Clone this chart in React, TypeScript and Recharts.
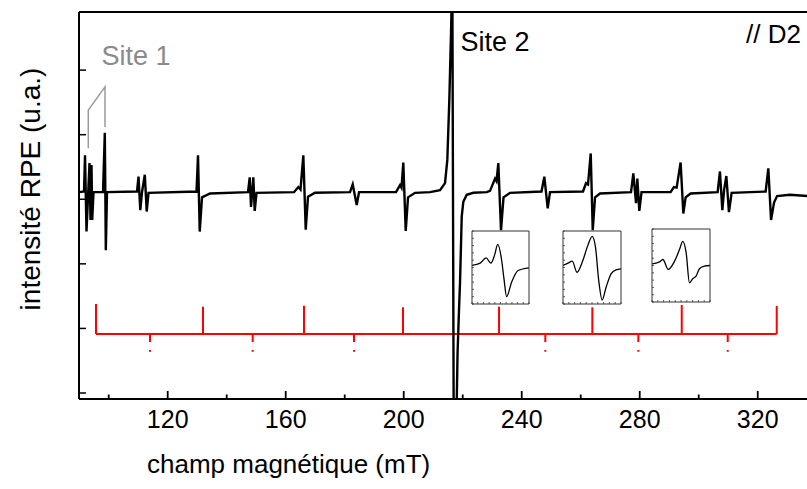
import { LineChart, Line, XAxis, YAxis, ReferenceLine } from 'recharts';

const FONT = '"Liberation Sans", Arial, Helvetica, sans-serif';

// [champ magnétique (mT), intensité RPE (u.a.)]
const spectrum: [number, number][] = [
  [90.1, 3.11], [91.63, 3.12], [91.97, 3.68], [92.47, 2.5], [93.49, 3.56], [93.83, 2.68],
  [94.17, 3.53], [94.41, 2.68], [94.85, 3.11], [98.07, 3.11], [98.68, 4.03], [99.02, 2.21],
  [99.42, 3.11], [109.59, 3.12], [110.1, 3.35], [110.71, 2.83], [111.29, 3.11], [112.24, 3.38],
  [112.88, 2.81], [113.49, 3.1], [129.76, 3.12], [130.27, 3.68], [130.85, 2.5], [131.63, 3.03],
  [134.34, 3.09], [147.22, 3.11], [147.8, 3.34], [148.24, 2.88], [148.64, 3.11], [149.02, 3.34],
  [149.49, 2.82], [150.1, 3.1], [162.81, 3.11], [164.27, 3.19], [165.02, 3.15], [165.97, 3.68],
  [166.78, 2.53], [167.56, 3.04], [169.93, 3.1], [181.8, 3.11], [182.71, 3.23], [184.07, 2.91],
  [184.85, 3.11], [197.39, 3.11], [198.75, 3.22], [199.25, 3.18], [199.86, 3.57], [200.68, 2.51],
  [201.46, 3.03], [203.83, 3.1], [208.92, 3.11], [212.31, 3.14], [214.0, 3.25], [214.78, 3.61],
  [215.46, 4.54], [216.03, 5.57], [216.47, 6.5], [216.98, -1.0], [217.66, -1.0], [218.24, 0.6],
  [218.75, 1.3], [219.08, 1.7], [219.66, 2.73], [220.2, 2.96], [221.36, 3.07], [223.59, 3.1],
  [228.14, 3.11], [229.25, 3.13], [230.95, 3.32], [231.46, 3.28], [232.07, 3.56], [232.98, 2.52],
  [233.83, 3.03], [236.03, 3.1], [246.71, 3.12], [247.66, 3.35], [248.81, 2.86], [249.59, 3.11],
  [260.78, 3.12], [261.8, 3.25], [262.47, 3.23], [263.39, 3.71], [264.07, 2.52], [264.85, 3.03],
  [266.54, 3.09], [277.05, 3.11], [277.83, 3.4], [278.75, 2.94], [279.19, 3.32], [279.86, 2.82],
  [280.61, 3.11], [290.47, 3.11], [291.59, 3.19], [292.51, 3.18], [293.86, 3.57], [294.78, 2.78],
  [295.56, 3.03], [297.25, 3.09], [306.41, 3.11], [307.19, 3.43], [308.0, 2.83], [308.61, 3.15],
  [309.36, 3.36], [310.24, 2.8], [311.15, 3.1], [322.68, 3.12], [323.59, 3.48], [324.51, 2.68],
  [325.53, 2.95], [326.54, 3.05], [330.95, 3.07], [336.71, 3.05],
];

// repère "Site 1"
const site1Bracket: [number, number][] = [[93.08, 3.79], [93.08, 4.38], [98.75, 4.74], [98.75, 4.12]];

// diagramme en bâtons (rouge)
const stickFields = [95.69, 131.97, 166.2, 199.76, 232.31, 263.93, 294.24, 326.44];
const stickTops = [1.378, 1.336, 1.351, 1.327, 1.336, 1.327, 1.362, 1.347];
const stickBase = 0.913;
const weakFields = [114.0, 148.81, 183.15, 248.0, 279.53, 309.83];
const weakBottom = 0.64;

const majorTicks = [120, 160, 200, 240, 280, 320];
const minorTicks = [100, 140, 180, 220, 260, 300];
const yTicks = [0, 1, 2, 3, 4, 5];

// encarts : [position relative, intensité relative]
const inset1: [number, number][] = [
  [0, 0.528], [0.144, 0.559], [0.248, 0.633], [0.33, 0.559], [0.4, 0.68], [0.451, 0.817],
  [0.521, 0.596], [0.56, 0.35], [0.608, 0.1], [0.694, 0.298], [0.809, 0.459], [1, 0.496],
];
const inset2: [number, number][] = [
  [0, 0.528], [0.086, 0.559], [0.16, 0.587], [0.24, 0.435], [0.342, 0.596], [0.428, 0.803],
  [0.503, 0.927], [0.56, 0.78], [0.616, 0.321], [0.675, 0.055], [0.743, 0.229], [0.829, 0.413],
  [0.914, 0.468], [1, 0.482],
];
const inset3: [number, number][] = [
  [0, 0.523], [0.12, 0.545], [0.188, 0.582], [0.28, 0.446], [0.389, 0.559], [0.474, 0.718],
  [0.531, 0.831], [0.589, 0.673], [0.646, 0.264], [0.702, 0.319], [0.76, 0.354], [0.817, 0.455],
  [0.902, 0.49], [1, 0.5],
];
const insetTicks = [0, 0.1, 0.2, 0.3, 0.4, 0.5, 0.6, 0.7, 0.8, 0.9, 1];

const xDomain: [number, number] = [89.93, 336.7];
const yDomain: [number, number] = [-0.093, 5.9];

const toXY = (pts: [number, number][]) => pts.map(([x, y]) => ({ x, y }));

function BottomTick(props: any) {
  const { x, y, payload } = props;
  const major = majorTicks.includes(payload.value);
  return (
    <g>
      <line x1={x} y1={y} x2={x} y2={y - (major ? 8 : 4.5)} stroke="#000" strokeWidth={1.8} />
      {major && (
        <text x={x} y={y + 29} textAnchor="middle" fontSize={25} fontFamily={FONT} fill="#000">
          {payload.value}
        </text>
      )}
    </g>
  );
}

function TopTick(props: any) {
  const { x, y } = props;
  return <line x1={x} y1={y} x2={x} y2={y + 3.5} stroke="#000" strokeWidth={1.5} />;
}

function LeftTick(props: any) {
  const { x, y } = props;
  return <line x1={x} y1={y} x2={x + 7} y2={y} stroke="#000" strokeWidth={1.5} />;
}

function tinyTick(dx: number, dy: number) {
  return (props: any) => (
    <line x1={props.x} y1={props.y} x2={props.x + dx} y2={props.y + dy} stroke="#333" strokeWidth={0.8} />
  );
}

function Inset({ data, left, top, width, height }: { data: [number, number][]; left: number; top: number; width: number; height: number }) {
  return (
    <div style={{ position: 'absolute', left, top }}>
      <LineChart width={width} height={height} margin={{ top: 0, right: 0, bottom: 0, left: 0 }}>
        <XAxis dataKey="x" type="number" domain={[0, 1]} ticks={insetTicks} height={1} tickSize={0} tickMargin={0}
          interval={0} allowDataOverflow stroke="#333" strokeWidth={1} tick={tinyTick(0, -2)} />
        <XAxis xAxisId="t" orientation="top" type="number" domain={[0, 1]} ticks={insetTicks} height={1} tickSize={0}
          tickMargin={0} interval={0} stroke="#333" strokeWidth={1} tick={tinyTick(0, 2)} />
        <YAxis type="number" domain={[0, 1]} ticks={insetTicks} width={1} tickSize={0} tickMargin={0} interval={0}
          allowDataOverflow stroke="#333" strokeWidth={1} tick={tinyTick(2, 0)} />
        <YAxis yAxisId="r" orientation="right" type="number" domain={[0, 1]} ticks={insetTicks} width={1} tickSize={0}
          tickMargin={0} interval={0} stroke="#333" strokeWidth={1} tick={tinyTick(-2, 0)} />
        <Line data={toXY(data)} dataKey="y" type="monotone" stroke="#000" strokeWidth={1.3} dot={false}
          isAnimationActive={false} />
      </LineChart>
    </div>
  );
}

export default function App() {
  const topTicks = [...minorTicks, ...majorTicks].sort((a, b) => a - b);
  return (
    <div style={{ position: 'absolute', left: 0, top: 0, width: 807, height: 489, overflow: 'hidden', background: '#fff' }}>
      <LineChart width={807} height={489} margin={{ top: 11, right: 0, bottom: 0, left: 0 }}>
        <XAxis dataKey="x" type="number" domain={xDomain} allowDataOverflow ticks={topTicks} interval={0}
          height={90} tickSize={0} tickMargin={0} stroke="#000" strokeWidth={2} tick={(p: any) => <BottomTick {...p} />} />
        <XAxis xAxisId="top" orientation="top" type="number" domain={xDomain} allowDataOverflow ticks={topTicks}
          interval={0} height={1} tickSize={0} tickMargin={0} stroke="#000" strokeWidth={2}
          tick={(p: any) => <TopTick {...p} />} />
        <YAxis type="number" domain={yDomain} allowDataOverflow ticks={yTicks} interval={0} width={79}
          tickSize={0} tickMargin={0} stroke="#000" strokeWidth={2} tick={(p: any) => <LeftTick {...p} />} />

        <ReferenceLine segment={[{ x: stickFields[0], y: stickBase }, { x: stickFields[stickFields.length - 1], y: stickBase }]}
          stroke="#ff0000" strokeWidth={2} ifOverflow="visible" />
        {stickFields.map((f, i) => (
          <ReferenceLine key={`s${i}`} segment={[{ x: f, y: stickBase }, { x: f, y: stickTops[i] }]}
            stroke="#ff0000" strokeWidth={2} ifOverflow="visible" />
        ))}
        {weakFields.map((f, i) => (
          <ReferenceLine key={`w${i}`} segment={[{ x: f, y: stickBase }, { x: f, y: weakBottom }]}
            stroke="#ff0000" strokeWidth={2} strokeDasharray="8 8 2 40" ifOverflow="visible" />
        ))}

        <Line data={toXY(site1Bracket)} dataKey="y" type="linear" stroke="#9a9a9a" strokeWidth={1.5} dot={false}
          isAnimationActive={false} />
        <Line data={toXY(spectrum)} dataKey="y" type="linear" stroke="#000" strokeWidth={2.4} dot={false}
          isAnimationActive={false} />
      </LineChart>

      <Inset data={inset1} left={471} top={230} width={59} height={75} />
      <Inset data={inset2} left={562} top={230} width={60} height={75} />
      <Inset data={inset3} left={651} top={228} width={60} height={75} />

      <svg width={807} height={489} style={{ position: 'absolute', left: 0, top: 0, pointerEvents: 'none' }}>
        <g fontFamily={FONT}>
          <text x={147} y={473} fontSize={26} fill="#000">champ magnétique (mT)</text>
          <text x={40} y={189} fontSize={28} fill="#000" textAnchor="middle" transform="rotate(-90 40 189)">
            intensité RPE (u.a.)
          </text>
          <text x={101.5} y={65} fontSize={27} fill="#8a8a8a">Site 1</text>
          <text x={460.5} y={51} fontSize={27} fill="#000">Site 2</text>
          <text x={801} y={43} fontSize={26} fill="#000" textAnchor="end">// D2</text>
        </g>
      </svg>
    </div>
  );
}
